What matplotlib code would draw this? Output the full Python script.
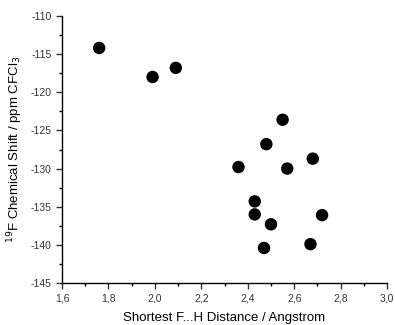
import numpy as np
import matplotlib.pyplot as plt
from matplotlib.ticker import MultipleLocator, FuncFormatter

plt.rcParams['font.family'] = ['Liberation Sans', 'DejaVu Sans']

# shortest F...H distance (Angstrom) and 19F shift (ppm)
dist = [1.76, 1.99, 2.09, 2.55, 2.48, 2.36, 2.57, 2.68, 2.43, 2.43, 2.72, 2.50, 2.47, 2.67]
shift = [-114.2, -118.0, -116.8, -123.6, -126.8, -129.8, -130.0, -128.7,
         -134.3, -136.0, -136.1, -137.3, -140.4, -139.9]

fig = plt.figure(figsize=(3.95, 3.25), dpi=100)
ax = fig.add_axes([0.157, 0.129, 0.823, 0.822])
ax.scatter(dist, shift, s=80, c='black', edgecolors='none', zorder=3)

ax.set_xlim(1.6, 3.0)
ax.set_ylim(-145, -110)
ax.xaxis.set_major_locator(MultipleLocator(0.2))
ax.xaxis.set_minor_locator(MultipleLocator(0.1))
ax.yaxis.set_major_locator(MultipleLocator(5))
ax.yaxis.set_minor_locator(MultipleLocator(2.5))
ax.xaxis.set_major_formatter(FuncFormatter(lambda v, p: f'{v:.1f}'.replace('.', ',')))
ax.yaxis.set_major_formatter(FuncFormatter(lambda v, p: f'{v:.0f}'))

for s in ['top', 'right']:
    ax.spines[s].set_visible(False)
for s in ['left', 'bottom']:
    ax.spines[s].set_linewidth(1.0)
ax.tick_params(which='major', direction='out', length=4, width=1, labelsize=7.5, colors='#333333', labelcolor='#333333')
ax.tick_params(which='minor', direction='out', length=2.5, width=1)
ax.set_xlabel('Shortest F...H Distance / Angstrom', fontsize=9.5, labelpad=6)
ax.set_ylabel(r'$^{19}$F Chemical Shift / ppm CFCl$_3$', fontsize=9.5, labelpad=4)

plt.savefig('out.png', dpi=100)
